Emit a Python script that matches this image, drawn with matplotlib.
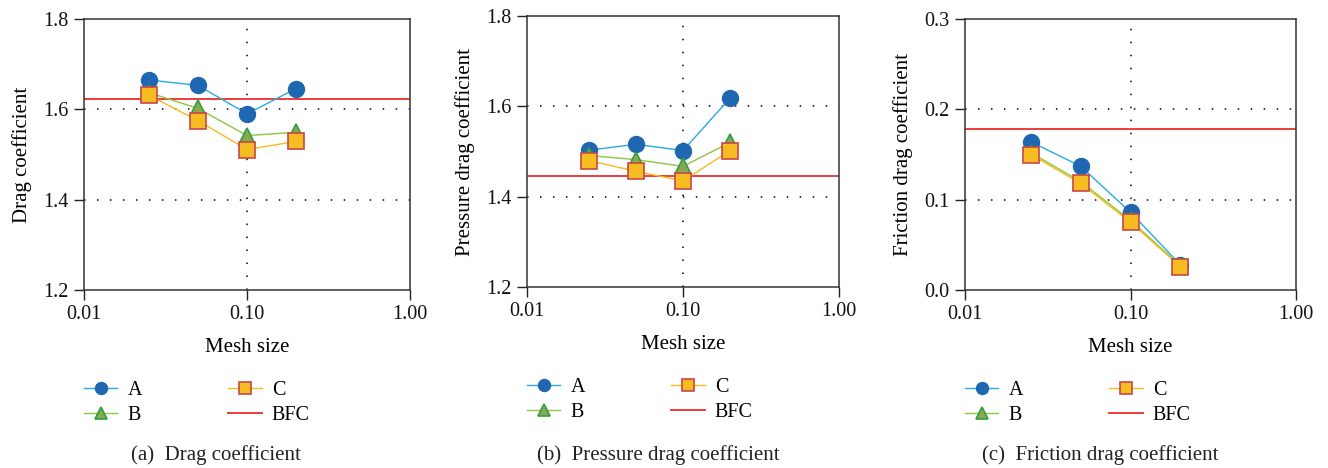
import matplotlib
matplotlib.use("Agg")
import matplotlib.pyplot as plt
from matplotlib.ticker import FixedLocator, FixedFormatter, NullLocator

plt.rcParams['font.family'] = ['Liberation Serif', 'DejaVu Serif']

mesh = [0.025, 0.05, 0.1, 0.2]

drag_A = [1.665, 1.653, 1.590, 1.646]
drag_B = [1.637, 1.602, 1.542, 1.549]
drag_C = [1.631, 1.575, 1.511, 1.529]
drag_BFC = 1.623

press_A = [1.503, 1.516, 1.502, 1.618]
press_B = [1.491, 1.482, 1.467, 1.520]
press_C = [1.480, 1.456, 1.435, 1.502]
press_BFC = 1.445

fric_A = [0.164, 0.137, 0.086, 0.028]
fric_B = [0.152, 0.120, 0.077, 0.027]
fric_C = [0.150, 0.118, 0.075, 0.026]
fric_BFC = 0.178

ylabels = ["Drag coefficient", "Pressure drag coefficient", "Friction drag coefficient"]
captions = ["(a)  Drag coefficient", "(b)  Pressure drag coefficient", "(c)  Friction drag coefficient"]
yticks_list = [[1.2, 1.4, 1.6, 1.8], [1.2, 1.4, 1.6, 1.8], [0.0, 0.1, 0.2, 0.3]]
xticks = [0.01, 0.1, 1.0]
xticklabels = ["0.01", "0.10", "1.00"]

panels = [
    (drag_A, drag_B, drag_C, drag_BFC),
    (press_A, press_B, press_C, press_BFC),
    (fric_A, fric_B, fric_C, fric_BFC),
]

W, H = 1328, 468
boxes = [(84, 19, 410, 290), (527, 16, 839, 287), (965, 19, 1296, 290)]
caption_x = [216, 658, 1100]

fig = plt.figure(figsize=(W / 100, H / 100), dpi=100)

colA_line, colA_mk = "#29aae1", "#1f67b1"
colB_line, colB_mk, colB_edge = "#8dc63f", "#8aa852", "#2ea043"
colC_line, colC_mk, colC_edge = "#f9b81b", "#f6bd22", "#c8474a"
colBFC = "#ee3b3b"

for i, (ya, yb, yc, bfc) in enumerate(panels):
    l, t, r, b = boxes[i]
    ax = fig.add_axes([l / W, 1 - b / H, (r - l) / W, (b - t) / H])
    ax.set_xscale('log')
    ax.set_xlim(0.01, 1.0)
    yt = yticks_list[i]
    ax.set_ylim(yt[0], yt[-1])

    ax.plot(mesh, ya, '-', color=colA_line, lw=1.0, marker='o', ms=11.5,
            mfc=colA_mk, mec=colA_mk, label='A', zorder=3)
    ax.plot(mesh, yb, '-', color=colB_line, lw=1.0, marker='^', ms=11.5,
            mfc=colB_mk, mec=colB_edge, mew=1.2, label='B', zorder=4)
    ax.plot(mesh, yc, '-', color=colC_line, lw=1.0, marker='s', ms=11,
            mfc=colC_mk, mec=colC_edge, mew=1.2, label='C', zorder=5)
    ax.axhline(bfc, color=colBFC, lw=1.4, label='BFC', zorder=2)

    ax.xaxis.set_major_locator(FixedLocator(xticks))
    ax.xaxis.set_major_formatter(FixedFormatter(xticklabels))
    ax.xaxis.set_minor_locator(NullLocator())
    ax.set_yticks(yt)
    ax.set_yticklabels([f"{v:.1f}" for v in yt])

    for v in yt[1:-1]:
        ax.axhline(v, color='black', lw=1.1, ls=(0, (1, 7.5)), zorder=1)
    ax.axvline(0.1, color='black', lw=1.1, ls=(0, (1, 7.5)), zorder=1)

    ax.tick_params(direction='out', length=7, width=1, labelsize=14.5, pad=4,
                   colors='#222222', labelcolor='#111111')
    for s in ax.spines.values():
        s.set_color('#333333')
        s.set_linewidth(1.1)

    ax.set_xlabel("Mesh size", fontsize=15, labelpad=10)
    ax.set_ylabel(ylabels[i], fontsize=15, labelpad=8)

    ax.legend(loc='upper left', bbox_to_anchor=(0.0, -0.335), ncol=2, frameon=False,
              fontsize=14.5, handlelength=1.65, handletextpad=0.5, columnspacing=4.3,
              labelspacing=0.3, markerscale=0.75, borderaxespad=0, borderpad=0)

    fig.text(caption_x[i] / W, 1 - 455 / H, captions[i], ha='center', va='center',
             fontsize=15, color='#222222')

fig.savefig("out.png", dpi=100)
